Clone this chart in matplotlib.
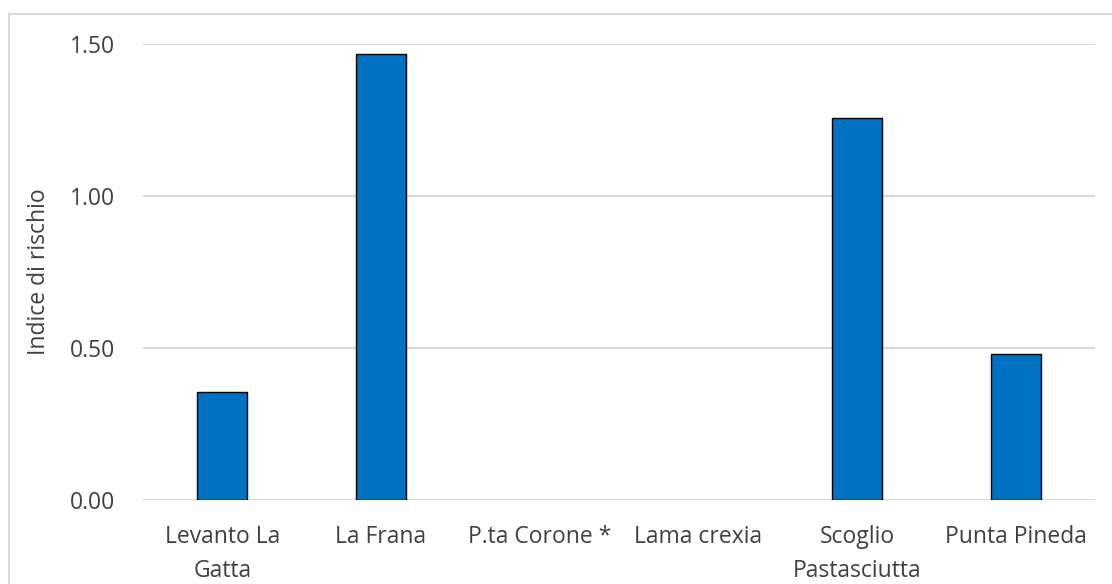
import matplotlib
matplotlib.use("Agg")
import matplotlib.pyplot as plt
from matplotlib.patches import Rectangle

# dati
siti = ["Levanto La\nGatta", "La Frana", "P.ta Corone *", "Lama crexia",
        "Scoglio\nPastasciutta", "Punta Pineda"]
indice = [0.356, 1.466, 0.0, 0.0, 1.256, 0.479]
yticks = [0.0, 0.5, 1.0, 1.5]

plt.rcParams['font.family'] = ['Open Sans', 'DejaVu Sans']
testo = '#404040'

fig = plt.figure(figsize=(11.12, 5.84), dpi=100)
ax = fig.add_axes([0.1286, 0.1438, 0.8561, 0.7814])

x = list(range(len(siti)))
# le barre a zero non hanno bordo visibile
bordi = [1.0 if v > 0 else 0 for v in indice]
ax.bar(x, indice, width=0.315, color='#0070C0', edgecolor='black',
       linewidth=bordi, zorder=3)

ax.set_xlim(-0.5, len(siti) - 0.5)
ax.set_ylim(0, 1.5)
ax.set_yticks(yticks)
ax.set_yticklabels([f'{v:.2f}' for v in yticks])
ax.set_xticks(x)
ax.set_xticklabels(siti, linespacing=1.55)

ax.grid(axis='y', color='#d9d9d9', linewidth=1.5, zorder=0)
for s in ax.spines.values():
    s.set_visible(False)
ax.tick_params(axis='both', length=0, labelsize=16.5, colors=testo)
ax.tick_params(axis='y', pad=20)
ax.tick_params(axis='x', pad=18)

ax.set_ylabel('Indice di rischio', fontsize=16.5, color=testo, labelpad=14)

# cornice del grafico (tagliata a destra e in basso)
fig.patches.append(Rectangle((9 / 1112, -0.1), 1.2, 1 - 14 / 584 + 0.1,
                             transform=fig.transFigure, fill=False,
                             edgecolor='#d9d9d9', linewidth=1.5))

fig.savefig('out.png', dpi=100)
